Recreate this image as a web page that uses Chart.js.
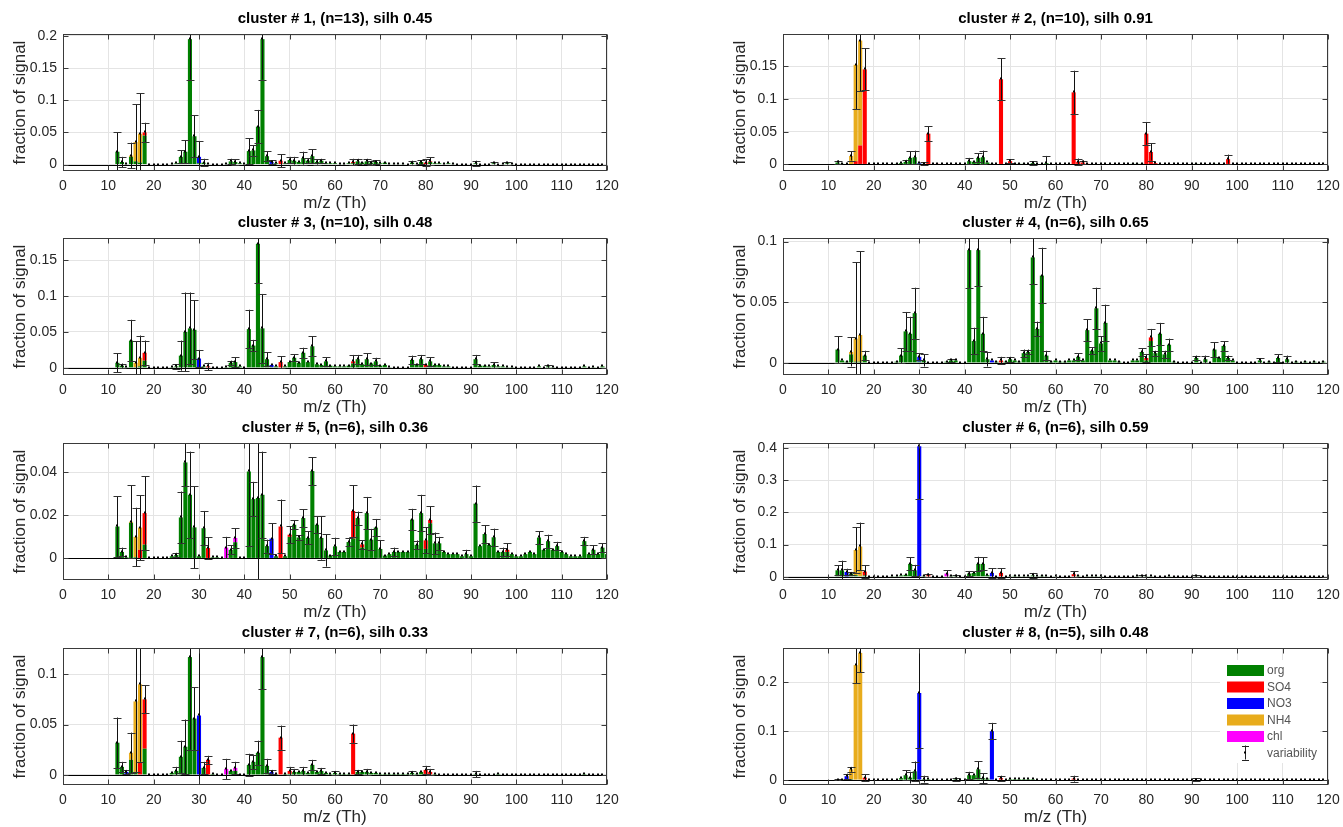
<!DOCTYPE html>
<html><head><meta charset="utf-8">
<script src="https://cdn.jsdelivr.net/npm/chart.js@4.4.1/dist/chart.umd.min.js"></script>
<style>
html,body{margin:0;padding:0;background:#fff;}
body{width:1343px;height:827px;overflow:hidden;position:relative;}
.p{position:absolute;}
</style></head><body>
<script>
// ---------------- DATA ----------------
const titles = [
  'cluster # 1, (n=13), silh 0.45','cluster # 2, (n=10), silh 0.91',
  'cluster # 3, (n=10), silh 0.48','cluster # 4, (n=6), silh 0.65',
  'cluster # 5, (n=6), silh 0.36','cluster # 6, (n=6), silh 0.59',
  'cluster # 7, (n=6), silh 0.33','cluster # 8, (n=5), silh 0.48'];
const speciesLabels = ['org','SO4','NO3','NH4','chl'];
const xTicks = [0,10,20,30,40,50,60,70,80,90,100,110,120];
const mzFirst = 12, mzLast = 120;

const yTicks1 = [0,0.05,0.1,0.15,0.2], yMax1 = 0.203;
const yTicks2 = [0,0.05,0.1,0.15],     yMax2 = 0.199;
const yTicks3 = [0,0.05,0.1,0.15],     yMax3 = 0.181;
const yTicks4 = [0,0.05,0.1],          yMax4 = 0.103;
const yTicks5 = [0,0.02,0.04],         yMax5 = 0.0535;
const yTicks6 = [0,0.1,0.2,0.3,0.4],   yMax6 = 0.415;
const yTicks7 = [0,0.05,0.1],          yMax7 = 0.126;
const yTicks8 = [0,0.1,0.2],           yMax8 = 0.27;
const yMin = -0.01;

// cluster 1  ([m/z, value])
const c1_org = [[12,.020],[13,.004],[14,.001],[15,.012],[16,.005],[17,.003],[18,.045],[24,.001],[25,.002],[26,.012],[27,.020],[28,.195],[29,.044],[30,.002],[31,.003],[32,.001],[36,.001],[37,.005],[38,.004],[39,.002],[40,.001],[41,.021],[42,.022],[43,.059],[44,.195],[45,.013],[46,.001],[47,.002],[49,.002],[50,.007],[51,.006],[52,.004],[53,.010],[54,.006],[55,.013],[56,.004],[57,.006],[58,.002],[59,.002],[60,.002],[61,.001],[62,.001],[63,.002],[64,.002],[65,.005],[66,.003],[67,.005],[68,.003],[69,.004],[70,.002],[71,.003],[72,.001],[73,.001],[74,.001],[75,.001],[77,.003],[78,.001],[79,.004],[81,.004],[82,.002],[83,.002],[84,.001],[85,.002],[86,.001],[91,.002],[95,.002],[97,.001],[98,.002],[99,.001]];
const c1_so4 = [[18,.005],[48,.006],[64,.002],[80,.003],[81,.001]];
const c1_no3 = [[30,.010],[46,.003]];
const c1_nh4 = [[15,.002],[16,.030],[17,.045]];
const c1_chl = [];
const c1_err = [[12,.030],[13,.008],[15,.020],[16,.059],[17,.063],[18,.015],[26,.010],[27,.018],[28,.063],[29,.033],[30,.024],[31,.006],[37,.004],[38,.004],[41,.020],[42,.008],[43,.026],[44,.063],[45,.008],[46,.003],[48,.010],[50,.005],[51,.006],[53,.010],[54,.004],[55,.011],[56,.004],[57,.003],[64,.005],[65,.004],[67,.004],[68,.003],[69,.003],[77,.003],[79,.003],[80,.005],[81,.006],[91,.004],[95,.002],[98,.002]];

// cluster 2
const c2_org = [[12,.003],[13,.001],[25,.001],[26,.002],[27,.004],[28,.010],[29,.011],[30,.001],[31,.001],[41,.005],[42,.004],[43,.010],[44,.011],[45,.003],[46,.001],[50,.001],[51,.001],[52,.001],[53,.001],[55,.002],[58,.002],[77,.001],[78,.001],[79,.001],[91,.001],[95,.001]];
const c2_so4 = [[16,.005],[17,.029],[18,.145],[32,.047],[34,.001],[48,.130],[50,.004],[64,.110],[65,.004],[66,.003],[67,.001],[80,.047],[81,.019],[82,.002],[98,.008]];
const c2_no3 = [[30,.001]];
const c2_nh4 = [[15,.013],[16,.147],[17,.160]];
const c2_chl = [];
const c2_err = [[12,.003],[15,.007],[16,.068],[17,.077],[18,.032],[27,.003],[28,.010],[29,.010],[31,.002],[32,.011],[41,.005],[43,.007],[44,.010],[48,.032],[50,.003],[55,.003],[58,.011],[64,.033],[65,.005],[66,.003],[80,.017],[81,.013],[98,.007]];

// cluster 3
const c3_org = [[12,.007],[13,.003],[14,.001],[15,.038],[16,.001],[17,.002],[18,.010],[24,.001],[25,.002],[26,.017],[27,.050],[28,.055],[29,.053],[30,.001],[31,.002],[36,.001],[37,.007],[38,.008],[39,.002],[41,.054],[42,.031],[43,.173],[44,.055],[45,.012],[46,.001],[47,.002],[49,.002],[50,.008],[51,.014],[52,.007],[53,.021],[54,.008],[55,.030],[56,.005],[57,.004],[58,.009],[59,.003],[60,.002],[61,.002],[62,.002],[63,.003],[64,.006],[65,.012],[66,.005],[67,.012],[68,.006],[69,.009],[70,.003],[71,.004],[72,.001],[77,.011],[78,.004],[79,.012],[80,.001],[81,.009],[82,.004],[83,.004],[84,.002],[85,.002],[91,.012],[92,.003],[93,.003],[94,.002],[95,.004],[96,.002],[97,.002],[98,.001],[99,.001],[105,.002],[107,.002],[108,.001],[115,.002],[117,.001],[119,.002]];
const c3_so4 = [[18,.011],[32,.002],[48,.008],[64,.003],[80,.003]];
const c3_no3 = [[30,.012],[46,.003]];
const c3_nh4 = [[16,.006],[17,.012]];
const c3_chl = [];
const c3_err = [[12,.013],[13,.003],[15,.029],[16,.030],[17,.031],[18,.017],[25,.003],[26,.021],[27,.055],[28,.050],[29,.041],[30,.012],[32,.005],[37,.003],[38,.007],[41,.027],[42,.008],[43,.055],[44,.048],[45,.010],[48,.008],[51,.005],[53,.007],[55,.014],[58,.006],[64,.009],[65,.006],[67,.008],[69,.005],[77,.006],[79,.006],[81,.006],[91,.006],[95,.004],[107,.002]];

// cluster 4
const c4_org = [[12,.011],[13,.002],[14,.001],[15,.007],[16,.001],[17,.001],[18,.006],[25,.001],[26,.006],[27,.026],[28,.024],[29,.041],[30,.001],[31,.002],[36,.001],[37,.002],[38,.002],[41,.093],[42,.018],[43,.093],[44,.024],[45,.003],[47,.001],[49,.001],[50,.003],[51,.002],[52,.001],[53,.008],[54,.009],[55,.087],[56,.028],[57,.072],[58,.006],[59,.001],[60,.002],[61,.001],[62,.001],[63,.002],[64,.002],[65,.005],[66,.002],[67,.027],[68,.010],[69,.045],[70,.016],[71,.033],[72,.002],[73,.002],[74,.001],[77,.002],[78,.002],[79,.009],[80,.002],[81,.018],[82,.008],[83,.024],[84,.007],[85,.015],[86,.001],[91,.004],[93,.003],[95,.011],[96,.004],[97,.014],[98,.004],[99,.002],[105,.002],[107,.001],[109,.004],[111,.003],[113,.001],[115,.001],[117,.001],[119,.001]];
const c4_so4 = [[48,.002],[80,.002],[81,.003]];
const c4_no3 = [[30,.004],[46,.002]];
const c4_nh4 = [[15,.002],[16,.019],[17,.022]];
const c4_chl = [];
const c4_err = [[12,.011],[15,.012],[16,.063],[17,.069],[18,.004],[26,.006],[27,.016],[28,.014],[29,.021],[30,.003],[31,.005],[37,.001],[41,.031],[42,.011],[43,.030],[44,.014],[45,.006],[48,.003],[50,.002],[53,.003],[54,.002],[55,.022],[56,.006],[57,.023],[58,.004],[65,.003],[67,.009],[68,.003],[69,.017],[70,.006],[71,.015],[79,.003],[80,.003],[81,.007],[82,.002],[83,.009],[84,.003],[85,.005],[91,.002],[93,.003],[95,.006],[97,.004],[98,.002],[105,.002],[109,.003],[111,.003]];

// cluster 5
const c5_org = [[12,.0148],[13,.003],[14,.0005],[15,.0165],[16,.0005],[18,.0064],[24,.001],[25,.0016],[26,.019],[27,.0445],[28,.0295],[29,.0144],[30,.001],[31,.014],[33,.0005],[34,.0005],[37,.004],[38,.0075],[41,.0403],[42,.0275],[43,.028],[44,.0295],[45,.0057],[47,.001],[49,.001],[50,.010],[51,.0156],[52,.0097],[53,.0187],[54,.0095],[55,.0405],[56,.0156],[57,.0095],[58,.0037],[59,.0013],[60,.0056],[61,.003],[62,.003],[63,.0076],[64,.0092],[65,.0187],[66,.005],[67,.021],[68,.0087],[69,.0143],[70,.0044],[71,.0013],[72,.002],[73,.003],[74,.003],[75,.003],[76,.003],[77,.018],[78,.0063],[79,.021],[80,.0044],[81,.0163],[82,.007],[83,.007],[84,.003],[85,.002],[86,.002],[87,.002],[88,.001],[89,.002],[90,.001],[91,.0254],[92,.0057],[93,.0113],[94,.0063],[95,.0098],[96,.003],[97,.003],[98,.003],[99,.002],[100,.001],[101,.001],[102,.002],[103,.003],[104,.002],[105,.0097],[106,.004],[107,.008],[108,.004],[109,.0057],[110,.003],[111,.002],[112,.001],[113,.001],[114,.001],[115,.008],[116,.002],[117,.004],[118,.002],[119,.005],[120,.002]];
const c5_so4 = [[17,.004],[18,.0146],[32,.0048],[48,.0148],[50,.001],[64,.0128],[66,.0015],[80,.004],[81,.0015],[98,.001]];
const c5_no3 = [[46,.0092]];
const c5_nh4 = [[15,.0005],[16,.0095],[17,.0103]];
const c5_chl = [[36,.005],[38,.002]];
const c5_err = [[12,.014],[13,.002],[15,.017],[16,.0135],[17,.015],[18,.017],[25,.001],[26,.012],[27,.011],[28,.020],[29,.019],[31,.008],[32,.005],[36,.005],[37,.002],[38,.0045],[41,.0345],[42,.008],[43,.050],[44,.020],[45,.003],[46,.007],[48,.0125],[50,.004],[51,.002],[52,.001],[53,.004],[54,.003],[55,.0065],[56,.004],[57,.010],[58,.0075],[60,.004],[63,.002],[64,.012],[65,.003],[66,.002],[67,.0075],[68,.005],[69,.004],[70,.004],[73,.002],[77,.005],[78,.002],[79,.0085],[80,.006],[81,.0065],[82,.005],[83,.003],[89,.002],[91,.0084],[93,.004],[95,.004],[97,.002],[98,.003],[105,.003],[107,.003],[109,.002],[115,.002],[117,.002],[119,.002]];

// cluster 6
const c6_org = [[12,.020],[13,.020],[14,.001],[15,.010],[16,.005],[17,.002],[18,.004],[24,.001],[25,.001],[26,.004],[27,.006],[28,.040],[29,.020],[31,.003],[37,.003],[38,.003],[41,.010],[42,.012],[43,.040],[44,.040],[45,.005],[50,.002],[51,.003],[52,.002],[53,.002],[54,.002],[55,.004],[56,.002],[57,.003],[58,.002],[60,.002],[65,.003],[67,.002],[68,.002],[69,.002],[70,.002],[78,.002],[79,.002],[80,.001],[81,.002],[85,.002],[91,.002]];
const c6_so4 = [[18,.012],[32,.005],[48,.012],[64,.008]];
const c6_no3 = [[14,.014],[30,.405],[46,.012]];
const c6_nh4 = [[16,.078],[17,.092]];
const c6_chl = [[36,.010]];
const c6_err = [[12,.015],[13,.030],[14,.010],[15,.005],[16,.070],[17,.074],[18,.020],[28,.020],[29,.017],[30,.165],[32,.005],[36,.010],[38,.004],[41,.008],[43,.022],[44,.020],[46,.015],[48,.015],[55,.008],[64,.010],[79,.003],[91,.002]];

// cluster 7
const c7_org = [[12,.032],[13,.008],[14,.001],[15,.015],[16,.003],[18,.026],[24,.002],[25,.004],[26,.018],[27,.028],[28,.117],[29,.056],[31,.007],[33,.001],[37,.004],[38,.004],[41,.010],[42,.013],[43,.022],[44,.117],[45,.009],[47,.001],[49,.001],[50,.001],[51,.003],[52,.003],[53,.004],[54,.002],[55,.010],[56,.003],[57,.004],[58,.002],[59,.001],[60,.002],[61,.001],[62,.001],[63,.001],[65,.003],[66,.003],[67,.003],[68,.002],[69,.002],[70,.001],[71,.001],[72,.001],[73,.001],[74,.001],[75,.001],[76,.001],[77,.002],[78,.001],[79,.003],[80,.001],[82,.001],[91,.001],[96,.001],[115,.001]];
const c7_so4 = [[17,.012],[18,.049],[32,.015],[48,.037],[50,.003],[64,.041],[80,.004],[81,.003]];
const c7_no3 = [[14,.002],[30,.059],[46,.003]];
const c7_nh4 = [[15,.007],[16,.070],[17,.078]];
const c7_chl = [[36,.006],[38,.003]];
const c7_err = [[12,.025],[13,.005],[14,.002],[15,.020],[16,.070],[17,.077],[18,.014],[25,.004],[26,.016],[27,.027],[28,.092],[29,.031],[30,.070],[31,.006],[32,.004],[36,.010],[38,.006],[41,.011],[42,.007],[43,.012],[44,.032],[45,.007],[46,.002],[48,.012],[50,.004],[51,.003],[53,.004],[55,.005],[57,.003],[60,.002],[64,.009],[65,.002],[67,.003],[77,.002],[80,.004],[81,.003],[91,.003]];

// cluster 8
const c8_org = [[12,.001],[13,.001],[15,.002],[24,.001],[25,.001],[26,.004],[27,.010],[28,.005],[29,.018],[31,.002],[32,.002],[36,.001],[38,.002],[41,.010],[42,.010],[43,.022],[44,.004],[45,.003],[50,.002],[51,.002],[52,.002],[53,.002],[54,.002],[55,.002],[56,.001],[65,.001],[66,.001],[67,.001],[77,.001],[78,.001],[79,.001],[80,.001],[81,.001],[91,.001]];
const c8_so4 = [[18,.005],[48,.004],[64,.003]];
const c8_no3 = [[14,.008],[30,.178],[46,.100]];
const c8_nh4 = [[15,.020],[16,.235],[17,.260]];
const c8_chl = [[37,.001]];
const c8_err = [[12,.001],[14,.005],[15,.005],[16,.037],[17,.040],[18,.007],[27,.010],[28,.012],[29,.020],[30,.112],[31,.007],[38,.003],[41,.007],[43,.017],[44,.010],[46,.017],[48,.005],[64,.006],[91,.003]];

// ---------------- CHART BUILD ----------------
const FONT = "'Liberation Sans', Arial, Helvetica, sans-serif";
const speciesColors = ['#008000','#ff0000','#0000ff','#e8ac1c','#ff00ff'];
const panels = [
  {sp:[c1_org,c1_so4,c1_no3,c1_nh4,c1_chl], err:c1_err, yt:yTicks1, ymax:yMax1},
  {sp:[c2_org,c2_so4,c2_no3,c2_nh4,c2_chl], err:c2_err, yt:yTicks2, ymax:yMax2},
  {sp:[c3_org,c3_so4,c3_no3,c3_nh4,c3_chl], err:c3_err, yt:yTicks3, ymax:yMax3},
  {sp:[c4_org,c4_so4,c4_no3,c4_nh4,c4_chl], err:c4_err, yt:yTicks4, ymax:yMax4},
  {sp:[c5_org,c5_so4,c5_no3,c5_nh4,c5_chl], err:c5_err, yt:yTicks5, ymax:yMax5},
  {sp:[c6_org,c6_so4,c6_no3,c6_nh4,c6_chl], err:c6_err, yt:yTicks6, ymax:yMax6},
  {sp:[c7_org,c7_so4,c7_no3,c7_nh4,c7_chl], err:c7_err, yt:yTicks7, ymax:yMax7},
  {sp:[c8_org,c8_so4,c8_no3,c8_nh4,c8_chl], err:c8_err, yt:yTicks8, ymax:yMax8}
];
const mzAll = [];
for (let m = mzFirst; m <= mzLast; m++) mzAll.push(m);

const colLeft = [0, 720];
const plotTops = [34, 238, 443, 648];
const PAD_TOP = 34, Y_W = 63, X_H = 46, PLOT_H = 137, PAD_R = 28;
const plotW = [544, 545];

function fmt(v){ return String(+v.toFixed(4)); }

panels.forEach((p, i) => {
  const col = i % 2, row = Math.floor(i / 2);
  const W = Y_W + plotW[col] + PAD_R, H = PAD_TOP + PLOT_H + X_H;
  const cv = document.createElement('canvas');
  cv.className = 'p';
  cv.width = W; cv.height = H;
  cv.style.left = colLeft[col] + 'px';
  cv.style.top = (plotTops[row] - PAD_TOP) + 'px';
  cv.style.width = W + 'px'; cv.style.height = H + 'px';
  document.body.appendChild(cv);

  const maps = p.sp.map(arr => new Map(arr));
  const errMap = new Map(p.err);
  const datasets = maps.map((mp, k) => ({
    label: speciesLabels[k],
    data: mzAll.map(m => ({x: m, y: mp.get(m) || 0})),
    backgroundColor: speciesColors[k],
    borderWidth: 0,
    categoryPercentage: 1.0,
    barPercentage: 0.9
  }));

  const panelPlugin = {
    id: 'panel' + i,
    afterDatasetsDraw(chart) {
      const {ctx, chartArea: a, scales: {x, y}} = chart;
      ctx.save();
      ctx.beginPath(); ctx.rect(a.left, a.top, a.right - a.left, a.bottom - a.top); ctx.clip();
      // zero line
      const y0 = Math.round(y.getPixelForValue(0)) + 0.5;
      ctx.strokeStyle = '#000'; ctx.lineWidth = 1;
      ctx.beginPath(); ctx.moveTo(a.left, y0); ctx.lineTo(a.right, y0); ctx.stroke();
      // error bars / markers
      mzAll.forEach(m => {
        let tot = 0; maps.forEach(mp => tot += (mp.get(m) || 0));
        const e = errMap.get(m) || 0;
        const px = Math.round(x.getPixelForValue(m)) + 0.5;
        const py = y.getPixelForValue(tot);
        if (e > 0) {
          const pt = y.getPixelForValue(tot + e), pb = y.getPixelForValue(tot - e);
          ctx.strokeStyle = '#111'; ctx.lineWidth = 1;
          ctx.beginPath(); ctx.moveTo(px, pt); ctx.lineTo(px, pb); ctx.stroke();
          ctx.strokeStyle = '#333';
          ctx.beginPath();
          ctx.moveTo(px - 4, Math.round(pt) + 0.5); ctx.lineTo(px + 4, Math.round(pt) + 0.5);
          ctx.moveTo(px - 4, Math.round(pb) + 0.5); ctx.lineTo(px + 4, Math.round(pb) + 0.5);
          ctx.stroke();
        }
        ctx.fillStyle = '#000';
        ctx.fillRect(px - 1.5, Math.round(py) - 1.5, 2, 2);
      });
      ctx.restore();

      // box + inner ticks
      ctx.save();
      ctx.strokeStyle = '#3a3a3a'; ctx.lineWidth = 1;
      const L = Math.round(a.left) + 0.5, R = Math.round(a.right) - 0.5;
      const T = Math.round(a.top) + 0.5, B = Math.round(a.bottom) - 0.5;
      ctx.strokeRect(L, T, R - L, B - T);
      ctx.beginPath();
      xTicks.forEach(v => {
        const px = Math.round(x.getPixelForValue(v)) + 0.5;
        ctx.moveTo(px, B); ctx.lineTo(px, B - 5);
        ctx.moveTo(px, T); ctx.lineTo(px, T + 5);
      });
      p.yt.forEach(v => {
        const py = Math.round(y.getPixelForValue(v)) + 0.5;
        ctx.moveTo(L, py); ctx.lineTo(L + 5, py);
        ctx.moveTo(R, py); ctx.lineTo(R - 5, py);
      });
      ctx.stroke();
      // title
      ctx.fillStyle = '#000';
      ctx.font = 'bold 15px ' + FONT;
      ctx.textAlign = 'center'; ctx.textBaseline = 'middle';
      ctx.fillText(titles[i], (a.left + a.right) / 2, a.top - 15);

      // legend (last panel)
      if (i === 7) {
        const lx = a.right - 108, ly = a.top + 12;
        ctx.fillStyle = '#fff';
        ctx.fillRect(lx, ly, 100, 103);
        ctx.font = '12px ' + FONT;
        ctx.textAlign = 'left'; ctx.textBaseline = 'middle';
        speciesLabels.forEach((lab, k) => {
          const yy = ly + 5 + k * 16.5;
          ctx.fillStyle = speciesColors[k];
          ctx.fillRect(lx + 7, yy, 37, 11);
          ctx.fillStyle = '#555';
          ctx.fillText(lab, lx + 47, yy + 6);
        });
        const vy = ly + 5 + 5 * 16.5 + 5, vx = lx + 25.5;
        ctx.strokeStyle = '#222'; ctx.lineWidth = 1;
        ctx.beginPath();
        ctx.moveTo(vx, vy - 7); ctx.lineTo(vx, vy + 7);
        ctx.moveTo(vx - 3.5, Math.round(vy - 7) + 0.5); ctx.lineTo(vx + 3.5, Math.round(vy - 7) + 0.5);
        ctx.moveTo(vx - 3.5, Math.round(vy + 7) + 0.5); ctx.lineTo(vx + 3.5, Math.round(vy + 7) + 0.5);
        ctx.stroke();
        ctx.fillStyle = '#000'; ctx.fillRect(vx - 1.5, vy - 1, 2, 2);
        ctx.fillStyle = '#555';
        ctx.fillText('variability', lx + 47, vy + 1);
      }
      ctx.restore();
    }
  };

  new Chart(cv, {
    type: 'bar',
    data: {datasets},
    options: {
      responsive: false, maintainAspectRatio: false, animation: false, devicePixelRatio: 1,
      layout: {padding: {top: PAD_TOP, right: PAD_R, bottom: 0, left: 0}},
      plugins: {legend: {display: false}, tooltip: {enabled: false}, title: {display: false}},
      scales: {
        x: {
          type: 'linear', min: 0, max: 120, offset: false, stacked: true,
          afterBuildTicks: s => { s.ticks = xTicks.map(v => ({value: v})); },
          grid: {color: '#e4e4e4', drawTicks: false, offset: false},
          border: {display: false},
          ticks: {padding: 7, color: '#262626', font: {family: FONT, size: 14}, maxRotation: 0, autoSkip: false, callback: v => String(v)},
          title: {display: true, text: 'm/z (Th)', color: '#262626', font: {family: FONT, size: 17}, padding: {top: 0, bottom: 3}},
          afterFit: s => { s.height = X_H; }
        },
        y: {
          type: 'linear', min: yMin, max: p.ymax, stacked: true,
          afterBuildTicks: s => { s.ticks = p.yt.map(v => ({value: v})); },
          grid: {color: '#e4e4e4', drawTicks: false},
          border: {display: false},
          ticks: {padding: 6, color: '#262626', font: {family: FONT, size: 14}, callback: v => fmt(v)},
          title: {display: true, text: 'fraction of signal', color: '#262626', font: {family: FONT, size: 17}, padding: {top: 10, bottom: 0}},
          afterFit: s => { s.width = Y_W; }
        }
      }
    },
    plugins: [panelPlugin]
  });
});
</script>
</body></html>
